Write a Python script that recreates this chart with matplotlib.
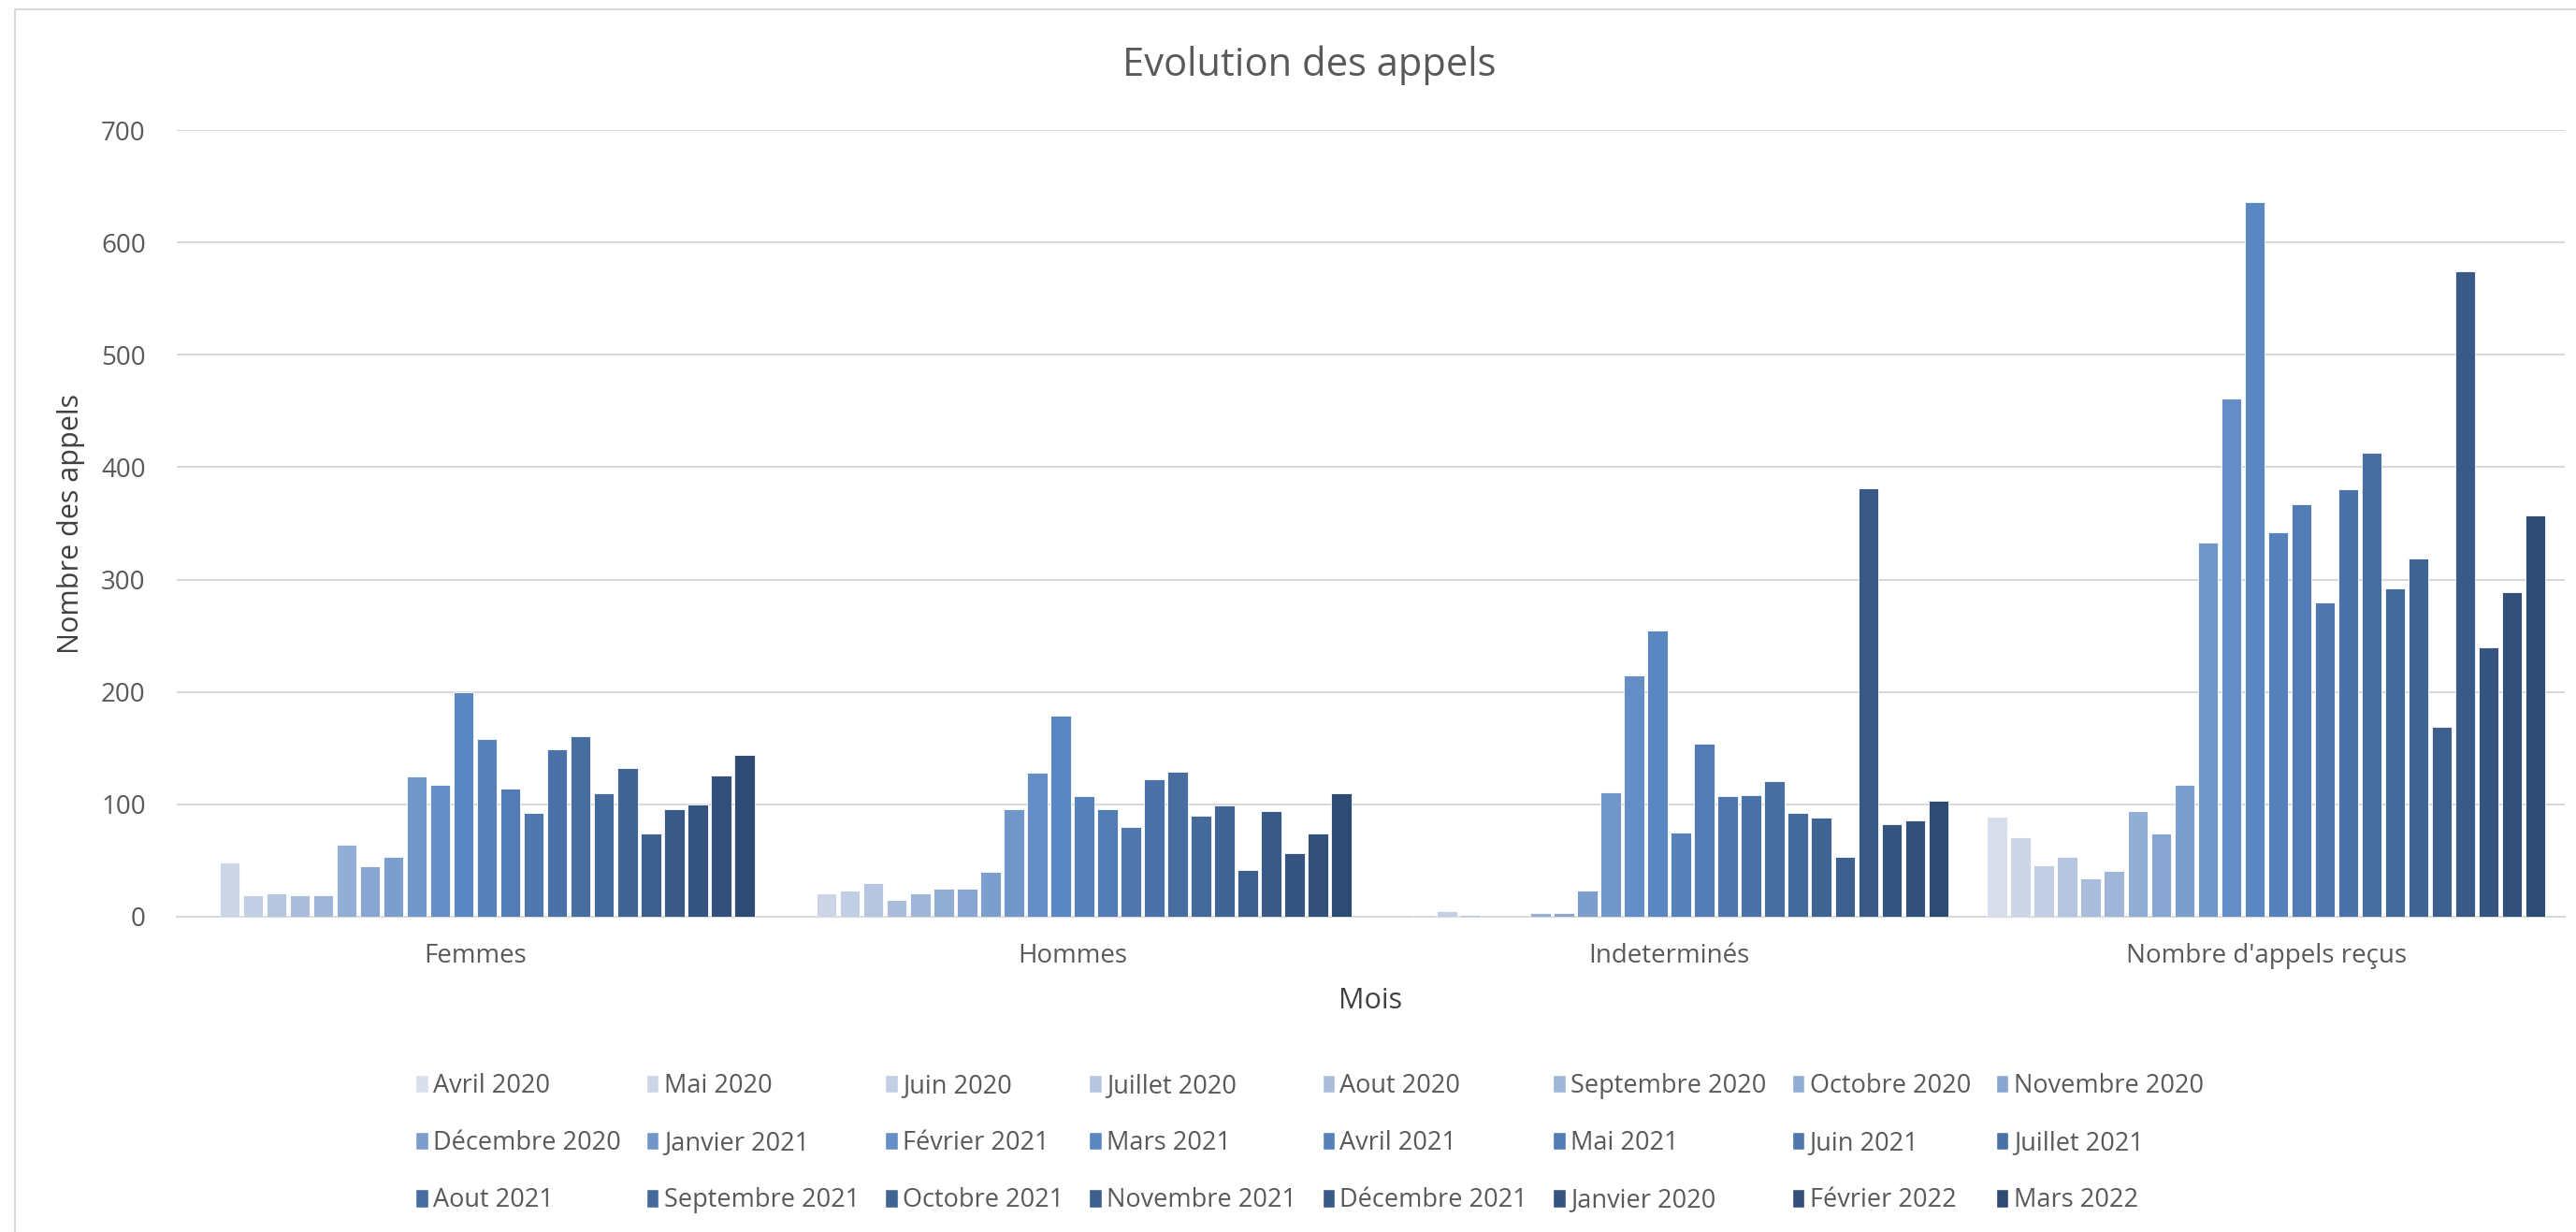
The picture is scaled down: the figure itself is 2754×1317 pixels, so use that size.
import numpy as np
import matplotlib
matplotlib.use("Agg")
import matplotlib.pyplot as plt
from matplotlib.patches import Patch, Rectangle

plt.rcParams['font.family'] = ['Open Sans', 'DejaVu Sans']

# categories on the x axis
categories = ["Femmes", "Hommes", "Indeterminés", "Nombre d'appels reçus"]

# one series per month (legend order)
months = ["Avril 2020", "Mai 2020", "Juin 2020", "Juillet 2020", "Aout 2020",
          "Septembre 2020", "Octobre 2020", "Novembre 2020", "Décembre 2020",
          "Janvier 2021", "Février 2021", "Mars 2021", "Avril 2021", "Mai 2021",
          "Juin 2021", "Juillet 2021", "Aout 2021", "Septembre 2021",
          "Octobre 2021", "Novembre 2021", "Décembre 2021", "Janvier 2020",
          "Février 2022", "Mars 2022"]

# values per category, in month order
femmes = [0, 48, 19, 21, 19, 19, 64, 45, 53, 125, 117, 200, 158, 114, 92, 149,
          161, 110, 132, 74, 96, 100, 126, 144]
hommes = [0, 21, 23, 30, 15, 21, 25, 25, 40, 96, 128, 179, 107, 96, 80, 122,
          129, 90, 99, 42, 94, 57, 74, 110]
indetermines = [0, 2, 5, 2, 0, 0, 3, 3, 23, 111, 215, 255, 75, 154, 107, 108,
                121, 92, 88, 53, 381, 82, 86, 103]
appels_recus = [89, 71, 46, 53, 34, 41, 94, 74, 117, 333, 461, 636, 342, 367,
                280, 380, 413, 292, 319, 169, 574, 240, 289, 357]

values = np.array([femmes, hommes, indetermines, appels_recus])

# monochromatic blue palette: light -> mid -> dark
anchors = np.array([[0xD8, 0xDE, 0xEB], [0x5A, 0x86, 0xC2], [0x2E, 0x4B, 0x73]]) / 255
n = len(months)
t = np.linspace(0, 1, n)
colors = [tuple(np.interp(tt, [0, 11 / 23, 1], anchors[:, k]) for k in range(3)) for tt in t]

W, H = 2754, 1317
fig = plt.figure(figsize=(W / 100, H / 100), dpi=100)
fig.patches.append(Rectangle((16 / W, -0.1), 1.2, 1 - 10 / H + 0.1,
                             transform=fig.transFigure, fill=False,
                             edgecolor="#D9D9D9", linewidth=1.5))

ax = fig.add_axes([189 / W, 1 - 980 / H, (2742 - 189) / W, (980 - 139) / H])

x = np.arange(len(categories))
pitch = 0.0392
for i, m in enumerate(months):
    ax.bar(x + (i - (n - 1) / 2) * pitch, values[:, i], width=pitch * 0.86,
           color=colors[i], edgecolor="white", linewidth=0.6, label=m, zorder=3)

ax.set_xlim(-0.5, len(categories) - 0.5)
ax.set_ylim(0, 700)
ax.set_yticks(range(0, 701, 100))
ax.set_xticks(x)
ax.set_xticklabels(categories)
ax.yaxis.grid(True, color="#D9D9D9", linewidth=1.5, zorder=0)
ax.tick_params(axis="both", length=0, labelsize=20, colors="#595959")
ax.tick_params(axis="x", pad=20)
ax.tick_params(axis="y", pad=24)
for s in ["top", "right", "left"]:
    ax.spines[s].set_visible(False)
ax.spines["bottom"].set_color("#D9D9D9")
ax.spines["bottom"].set_linewidth(1.5)

ax.set_ylabel("Nombre des appels", fontsize=22, color="#404040", labelpad=12)
ax.set_xlabel("Mois", fontsize=22, color="#404040", labelpad=14)

fig.text(1400 / W, 1 - 70 / H, "Evolution des appels", ha="center", va="center",
         fontsize=30, color="#595959")

# legend filled row by row (matplotlib fills by column)
ncol, nrow = 8, 3
order = [r * ncol + c for c in range(ncol) for r in range(nrow)]
handles = [Patch(facecolor=colors[k], edgecolor="white") for k in order]
labels = [months[k] for k in order]
fig.legend(handles, labels, ncol=ncol, loc="center",
           bbox_to_anchor=(1400 / W, 1 - 1222 / H), frameon=False,
           fontsize=19.5, handlelength=0.5, handleheight=0.75, handletextpad=0.2,
           columnspacing=1.0, labelspacing=1.22, labelcolor="#595959")

fig.savefig("out.png", dpi=100)
